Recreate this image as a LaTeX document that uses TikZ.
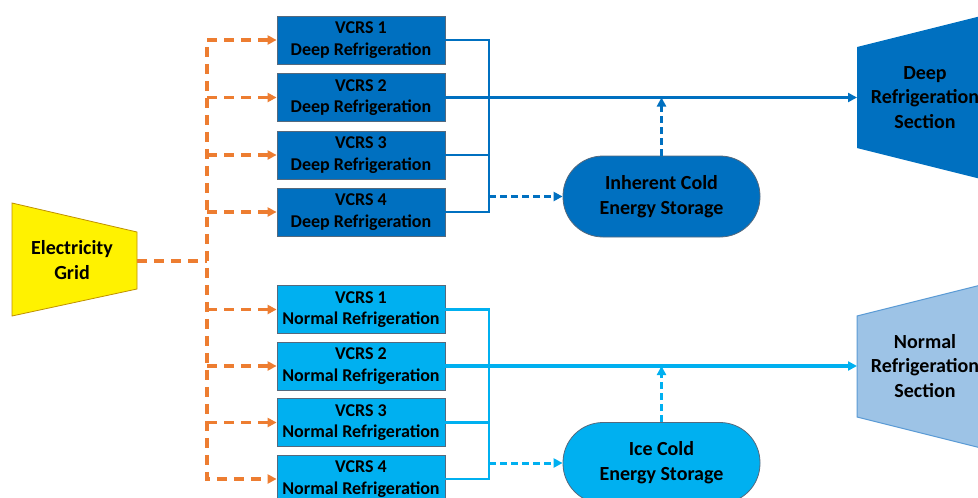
\documentclass[tikz,border=0pt]{standalone}
\usepackage{fontspec}
\setmainfont{Carlito}
\usetikzlibrary{arrows.meta,positioning,calc}
\definecolor{deepblue}{RGB}{0,112,192}
\definecolor{iceblue}{RGB}{0,176,240}
\definecolor{paleblue}{RGB}{157,195,230}
\definecolor{edgeblue}{RGB}{91,155,213}
\definecolor{gridorange}{RGB}{237,125,49}
\definecolor{boxedge}{RGB}{85,105,125}
\definecolor{gridedge}{RGB}{191,144,0}

\begin{document}
\begin{tikzpicture}[x=1pt,y=-1pt,>={Triangle[length=9pt,width=9pt]},
  unit/.style={draw=boxedge, line width=0.8pt, minimum width=168pt, minimum height=48pt,
    inner sep=0pt, align=center, font=\fontsize{18}{21.5}\selectfont\bfseries},
  deepunit/.style={unit, fill=deepblue},
  iceunit/.style={unit, fill=iceblue},
  store/.style={draw=boxedge, line width=0.8pt, rounded corners=40pt, minimum width=197pt,
    minimum height=81pt, inner sep=0pt, align=center, font=\fontsize{20}{25}\selectfont\bfseries},
  bigtext/.style={align=center, inner sep=0pt, font=\fontsize{20}{24.5}\selectfont\bfseries},
  power/.style={gridorange, line width=3.2pt, dash pattern=on 10pt off 7pt},
  pipe/.style={line width=2.5pt},
  coldflow/.style={line width=3pt, dash pattern=on 7pt off 4pt}]
  \useasboundingbox (0,0) rectangle (978,498);
  \clip (0,0) rectangle (978,498);
  \def\ux{361}
  \def\colx{489}
  \def\secx{857}
  \foreach \i/\y in {1/40,2/97.5,3/155,4/212}
    \node[deepunit] (d\i) at (\ux,\y) {VCRS \i\\Deep Refrigeration};
  \foreach \i/\y in {1/309.5,2/366,3/422.5,4/479}
    \node[iceunit] (n\i) at (\ux,\y) {VCRS \i\\Normal Refrigeration};
  \node[store, fill=deepblue] (ics) at (661.5,196.5) {Inherent Cold\\Energy Storage};
  \node[store, fill=iceblue] (ice) at (661.5,463) {Ice Cold\\Energy Storage};
  \draw[fill=yellow, draw=gridedge, line width=0.8pt] (12,203) -- (137,232) -- (137,289) -- (12,316) -- cycle;
  \node[bigtext] (grid) at (72,260) {Electricity\\Grid};
  \coordinate (gridout) at (137,261);
  \coordinate (bus) at (207,261);
  \fill[deepblue] (\secx,47) -- (993,13) -- (993,182) -- (\secx,148) -- cycle;
  \node[bigtext] (deepsec) at (925,97.5) {Deep\\Refrigeration\\Section};
  \draw[fill=paleblue, draw=edgeblue, line width=1pt] (\secx,316) -- (993,282) -- (993,451) -- (\secx,417) -- cycle;
  \node[bigtext] (normsec) at (925,366) {Normal\\Refrigeration\\Section};
  \coordinate (dcol) at (\colx,0);
  \coordinate (deepin) at (\secx,97.5);
  \coordinate (normin) at (\secx,366);
  \draw[power] (gridout) -- (bus);
  \draw[power,<->] (d1.west) -| (bus) |- (n4.west);
  \foreach \b in {d2,d3,d4,n1,n2,n3}
    \draw[power,->] (\b.west -| bus) -- (\b.west);
  \draw[pipe,deepblue] (d1.east) -| (d4.east -| dcol) -- (d4.east);
  \draw[pipe,deepblue] (d3.east) -- (d3.east -| dcol);
  \draw[pipe,deepblue,->] (d2.east) -- (deepin);
  \draw[coldflow,deepblue,->] (ics.west -| dcol) -- (ics.west);
  \draw[coldflow,deepblue,->] (ics.north) -- (ics.north |- d2.east);
  \draw[pipe,iceblue] (n1.east) -| (n4.east -| dcol) -- (n4.east);
  \draw[pipe,iceblue] (n3.east) -- (n3.east -| dcol);
  \draw[pipe,iceblue,line width=3.2pt,->] (n2.east) -- (normin);
  \draw[coldflow,iceblue,->] (ice.west -| dcol) -- (ice.west);
  \draw[coldflow,iceblue,->] (ice.north) -- (ice.north |- n2.east);
\end{tikzpicture}
\end{document}
